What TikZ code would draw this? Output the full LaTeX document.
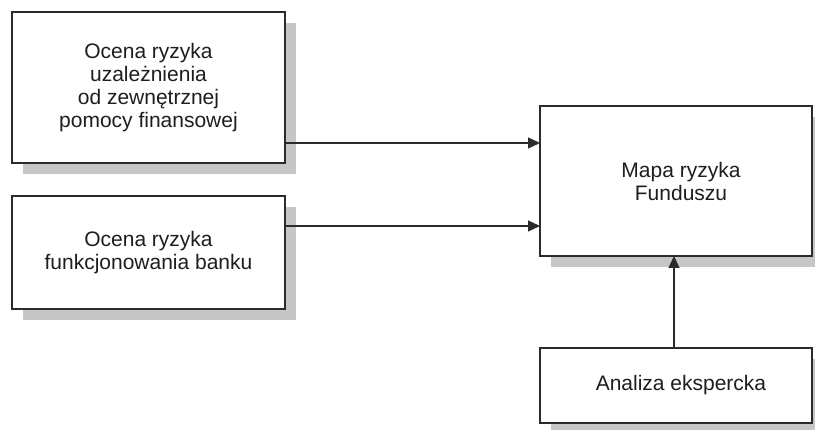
\documentclass[tikz,border=0pt]{standalone}
\usepackage{fontspec}
\setmainfont{Liberation Sans}
\usetikzlibrary{arrows.meta,shadows}
\definecolor{edge}{HTML}{2B2B2B}
\definecolor{shade}{HTML}{C6C6C6}
\definecolor{ink}{HTML}{1E1E1E}
\begin{document}
\begin{tikzpicture}[x=1pt,y=-1pt,
  box/.style={draw=edge, line width=1.3pt, fill=white, rectangle,
    align=center, text=ink, font=\fontsize{21}{23}\selectfont,
    inner sep=0pt, outer sep=0pt,
    drop shadow={shadow xshift=11pt, shadow yshift=-11pt, fill=shade, opacity=1}},
  arr/.style={draw=edge, line width=1.3pt, -{Triangle[length=12pt,width=11pt]}}]
  \clip (0,0) rectangle (815,430);
  \fill[white] (0,0) rectangle (815,430);

  \node[box, minimum width=273pt, minimum height=151pt] (b1) at (148.5,87.5)
    {Ocena ryzyka\\uzależnienia\\od zewnętrznej\\pomocy finansowej};
  \node[box, minimum width=273pt, minimum height=113pt] (b2) at (148.5,252.5)
    {Ocena ryzyka\\funkcjonowania banku};
  \node[box, minimum width=272pt, minimum height=150pt] (m) at (676,181)
    {\hspace*{10pt}Mapa ryzyka\\\hspace*{10pt}Funduszu};
  \node[box, minimum width=272pt, minimum height=75pt] (a) at (676,385.5)
    {\hspace*{10pt}Analiza ekspercka};

  \coordinate (p1) at ([yshift=-55.5pt]b1.east);
  \coordinate (p2) at ([yshift=26.5pt]b2.east);
  \draw[arr] (p1) -- (p1 -| m.west);
  \draw[arr] (p2) -- (p2 -| m.west);
  \draw[arr] ([xshift=-2pt]a.north) -- ([xshift=-2pt]m.south);
\end{tikzpicture}
\end{document}
